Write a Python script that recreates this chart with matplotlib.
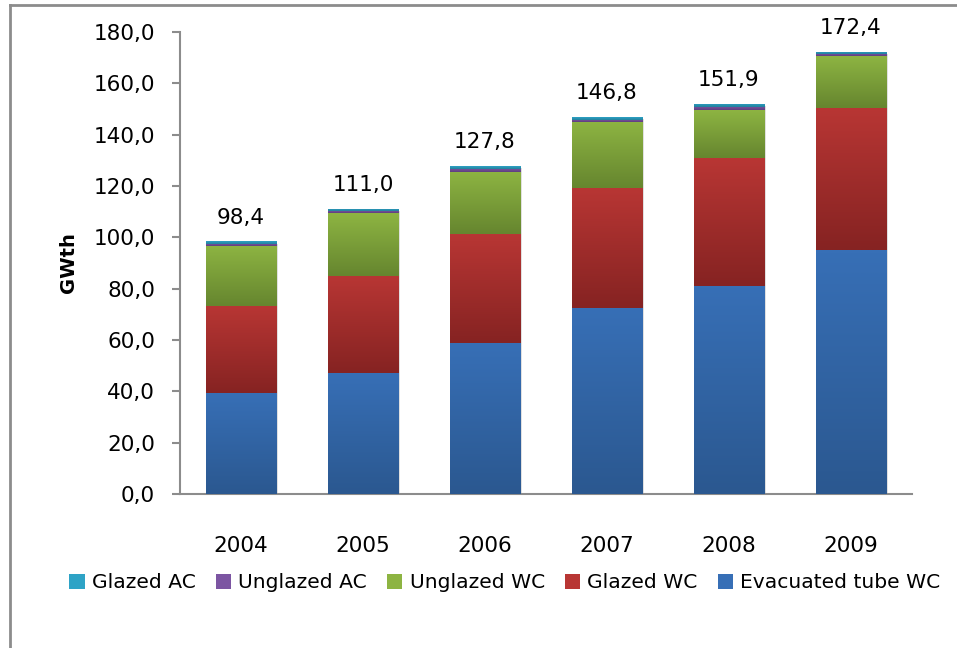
import matplotlib
matplotlib.use("Agg")
import matplotlib.pyplot as plt
import numpy as np
from matplotlib.colors import LinearSegmentedColormap
from matplotlib.lines import Line2D
from matplotlib import patheffects

years = ["2004", "2005", "2006", "2007", "2008", "2009"]
evacuated_tube_wc = [39.3, 47.1, 58.8, 72.4, 81.0, 95.0]
glazed_wc = [33.9, 37.9, 42.4, 46.8, 49.8, 55.4]
unglazed_wc = [23.4, 24.3, 24.3, 25.8, 18.7, 20.2]
unglazed_ac = [0.9, 0.8, 1.3, 0.9, 1.2, 0.9]
glazed_ac = [0.9, 0.9, 1.0, 0.9, 1.2, 0.9]
totals = ["98,4", "111,0", "127,8", "146,8", "151,9", "172,4"]

# stacking order bottom -> top: (name, values, top colour, bottom colour)
series = [
    ("Evacuated tube WC", evacuated_tube_wc, "#376fb6", "#2b5890"),
    ("Glazed WC", glazed_wc, "#b83634", "#862322"),
    ("Unglazed WC", unglazed_wc, "#8db442", "#66862f"),
    ("Unglazed AC", unglazed_ac, "#7c55a2", "#5e3f80"),
    ("Glazed AC", glazed_ac, "#2ea3c6", "#22809c"),
]

plt.rcParams["font.family"] = "DejaVu Sans"

fig = plt.figure(figsize=(9.57, 6.48), dpi=100)
ax = fig.add_axes([180 / 957, 1 - 494 / 648, (912 - 180) / 957, (494 - 32) / 648])

x = np.arange(len(years))
bottom = np.zeros(len(years))
grad = np.linspace(0, 1, 64).reshape(-1, 1)
handles = []
for name, vals, c_top, c_bot in series:
    bars = ax.bar(x, vals, 0.58, bottom=bottom, color=c_top, zorder=2,
                  linewidth=0)
    cmap = LinearSegmentedColormap.from_list(name, [c_bot, c_top])
    for rect in bars:
        rect.set_path_effects([patheffects.SimplePatchShadow(offset=(1.5, -1.5), shadow_rgbFace="#000000", alpha=0.12),
                               patheffects.Normal()])
        rx, ry, rw, rh = rect.get_x(), rect.get_y(), rect.get_width(), rect.get_height()
        im = ax.imshow(grad, extent=[rx, rx + rw, ry, ry + rh], origin="lower",
                       cmap=cmap, aspect="auto", zorder=3, interpolation="bilinear")
        im.set_clip_path(rect)
    handles.append(plt.Rectangle((0, 0), 1, 1, facecolor=c_top, edgecolor="none"))
    bottom += np.array(vals)

for xi, top, lab in zip(x, bottom, totals):
    ax.annotate(lab, (xi, top), xytext=(0, 10), textcoords="offset points",
                ha="center", va="bottom", fontsize=15.5)

ax.set_xlim(-0.5, len(years) - 0.5)
ax.set_ylim(0, 180)
ax.set_yticks(np.arange(0, 181, 20))
ax.set_yticklabels([f"{v:.1f}".replace(".", ",") for v in np.arange(0, 181, 20)], fontsize=15.5)
ax.set_xticks(x)
ax.set_xticklabels(years, fontsize=15.5)
ax.tick_params(axis="x", length=0, pad=30)
ax.tick_params(axis="y", length=6, width=1.5, color="#8c8c8c", pad=12)
for s in ["top", "right"]:
    ax.spines[s].set_visible(False)
for s in ["left", "bottom"]:
    ax.spines[s].set_color("#8c8c8c")
    ax.spines[s].set_linewidth(1.5)
ax.set_ylabel("GWth", fontsize=14, fontweight="bold", labelpad=11)

fig.legend(handles[::-1], [s[0] for s in series][::-1], loc="center",
           bbox_to_anchor=(505 / 957, 1 - 583 / 648), ncol=5, frameon=False,
           fontsize=14.6, handlelength=0.75, handleheight=0.75, handletextpad=0.35,
           columnspacing=1.0)

# outer chart frame (only top and left edges are visible)
fig.add_artist(Line2D([9.5 / 957, 1], [1 - 4.5 / 648] * 2, color="#8c8c8c", lw=2,
                      transform=fig.transFigure))
fig.add_artist(Line2D([9.5 / 957] * 2, [0, 1 - 4.5 / 648], color="#8c8c8c", lw=2,
                      transform=fig.transFigure))

fig.savefig("out.png", dpi=100)
